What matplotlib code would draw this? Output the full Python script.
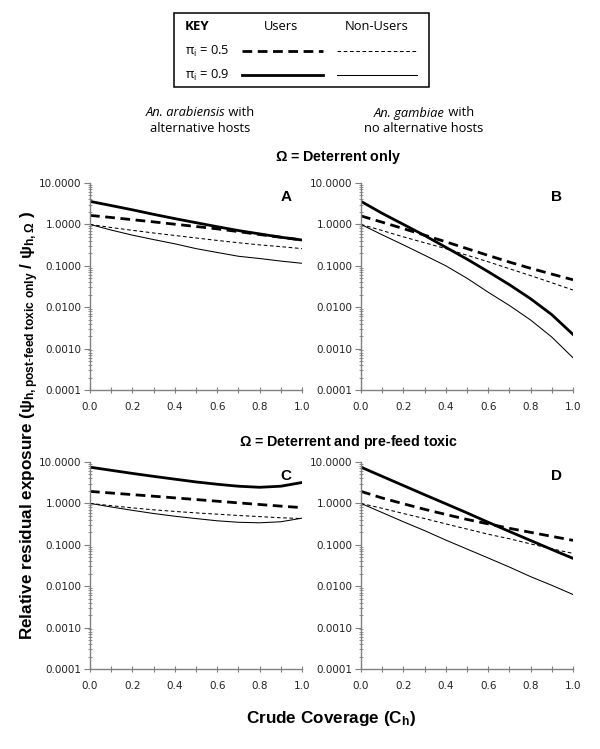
import numpy as np
import matplotlib
matplotlib.use('Agg')
import matplotlib.pyplot as plt
from matplotlib.lines import Line2D
from matplotlib.patches import Rectangle
from matplotlib.ticker import LogLocator, MultipleLocator, FormatStrFormatter, NullFormatter

plt.rcParams['mathtext.fontset'] = 'custom'
plt.rcParams['mathtext.rm'] = 'Open Sans'
plt.rcParams['mathtext.it'] = 'Open Sans:italic'
plt.rcParams['mathtext.bf'] = 'Liberation Sans:bold'

# crude coverage C_h
coverage = [0.0, 0.1, 0.2, 0.3, 0.4, 0.5, 0.6, 0.7, 0.8, 0.9, 1.0]

# panel A: An. arabiensis, deterrent only
a_users_05 = [1.65, 1.47, 1.30, 1.15, 1.01, 0.89, 0.78, 0.67, 0.57, 0.49, 0.42]
a_users_09 = [3.6, 2.85, 2.25, 1.75, 1.38, 1.10, 0.88, 0.71, 0.59, 0.49, 0.42]
a_non_05 = [1.0, 0.84, 0.72, 0.62, 0.54, 0.47, 0.41, 0.36, 0.32, 0.29, 0.26]
a_non_09 = [1.0, 0.73, 0.55, 0.43, 0.34, 0.26, 0.21, 0.17, 0.15, 0.13, 0.115]

# panel B: An. gambiae, deterrent only
b_users_05 = [1.6, 1.13, 0.79, 0.55, 0.38, 0.26, 0.178, 0.123, 0.087, 0.063, 0.046]
b_users_09 = [3.6, 1.85, 1.0, 0.54, 0.28, 0.145, 0.072, 0.035, 0.016, 0.0066, 0.0022]
b_non_05 = [1.0, 0.71, 0.50, 0.36, 0.26, 0.18, 0.125, 0.085, 0.058, 0.039, 0.026]
b_non_09 = [1.0, 0.56, 0.32, 0.18, 0.10, 0.05, 0.023, 0.011, 0.0049, 0.0019, 0.0006]

# panel C: An. arabiensis, deterrent and pre-feed toxic
c_users_05 = [1.95, 1.78, 1.63, 1.49, 1.36, 1.24, 1.13, 1.03, 0.94, 0.86, 0.79]
c_users_09 = [7.5, 6.3, 5.3, 4.5, 3.85, 3.3, 2.9, 2.6, 2.45, 2.6, 3.2]
c_non_05 = [1.0, 0.88, 0.78, 0.70, 0.64, 0.59, 0.55, 0.51, 0.48, 0.45, 0.43]
c_non_09 = [1.0, 0.82, 0.68, 0.57, 0.49, 0.43, 0.38, 0.35, 0.34, 0.36, 0.44]

# panel D: An. gambiae, deterrent and pre-feed toxic
d_users_05 = [1.95, 1.35, 0.98, 0.72, 0.54, 0.41, 0.32, 0.25, 0.20, 0.16, 0.128]
d_users_09 = [7.5, 4.5, 2.7, 1.62, 0.98, 0.59, 0.35, 0.21, 0.127, 0.077, 0.047]
d_non_05 = [1.0, 0.76, 0.57, 0.43, 0.32, 0.24, 0.18, 0.14, 0.105, 0.08, 0.062]
d_non_09 = [1.0, 0.60, 0.36, 0.22, 0.13, 0.079, 0.048, 0.029, 0.017, 0.0105, 0.0063]

panels = {
    'A': (a_users_05, a_users_09, a_non_05, a_non_09),
    'B': (b_users_05, b_users_09, b_non_05, b_non_09),
    'C': (c_users_05, c_users_09, c_non_05, c_non_09),
    'D': (d_users_05, d_users_09, d_non_05, d_non_09),
}

W, H = 600, 749
fig = plt.figure(figsize=(6, 7.49), dpi=100)


def fx(x):
    return x / W


def fy(y):
    return 1 - y / H


boxes = {'A': (90, 183), 'B': (361, 183), 'C': (90, 462), 'D': (361, 462)}
axw, axh = 212, 207
grey = '#808080'

thick_dash = dict(color='black', lw=2.0, ls=(0, (3.5, 2.0)))
thick_solid = dict(color='black', lw=2.0, ls='-')
thin_dash = dict(color='black', lw=0.75, ls=(0, (3.5, 2.5)))
thin_solid = dict(color='black', lw=0.75, ls='-')

for name, (u05, u09, n05, n09) in panels.items():
    x0, y0 = boxes[name]
    ax = fig.add_axes([fx(x0), fy(y0 + axh), axw / W, axh / H])
    ax.plot(coverage, n09, **thin_solid)
    ax.plot(coverage, n05, **thin_dash)
    ax.plot(coverage, u05, **thick_dash)
    ax.plot(coverage, u09, **thick_solid)
    ax.set_yscale('log')
    ax.set_ylim(0.0001, 10)
    ax.set_xlim(0, 1.0)
    ax.yaxis.set_major_locator(LogLocator(base=10, numticks=10))
    ax.yaxis.set_minor_locator(LogLocator(base=10, subs=np.arange(2, 10), numticks=10))
    ax.yaxis.set_major_formatter(FormatStrFormatter('%.4f'))
    ax.yaxis.set_minor_formatter(NullFormatter())
    ax.xaxis.set_major_locator(MultipleLocator(0.2))
    ax.xaxis.set_minor_locator(MultipleLocator(0.1))
    ax.xaxis.set_major_formatter(FormatStrFormatter('%.1f'))
    for s in ['top', 'right']:
        ax.spines[s].set_visible(False)
    for s in ['left', 'bottom']:
        ax.spines[s].set_color(grey)
        ax.spines[s].set_linewidth(1.0)
    ax.tick_params(axis='y', which='major', direction='out', length=4, width=0.8,
                   color=grey, labelsize=7.5, labelcolor='#222222', pad=2)
    ax.tick_params(axis='y', which='minor', direction='inout', length=3, width=0.6, color=grey)
    ax.tick_params(axis='x', which='both', direction='inout', length=5, width=0.8,
                   color=grey, labelsize=7.5, labelcolor='#222222', pad=6)
    ax.patch.set_visible(False)
    ax.text(0.95, 0.93, name, transform=ax.transAxes, ha='right', va='center',
            fontsize=11, fontweight='bold', family='Liberation Sans')

# titles
fig.text(fx(338), fy(157), r'$\mathbf{\Omega}$ = Deterrent only', ha='center', va='center',
         fontsize=10.3, fontweight='bold', family='Liberation Sans')
fig.text(fx(349), fy(442), r'$\mathbf{\Omega}$ = Deterrent and pre-feed toxic', ha='center', va='center',
         fontsize=10.3, fontweight='bold', family='Liberation Sans')

# column headers: italic species name followed by plain text, centred together
renderer = fig.canvas.get_renderer()
for cx, species, rest, line2 in [(200, 'An. arabiensis', ' with', 'alternative hosts'),
                                 (424, 'An. gambiae', ' with', 'no alternative hosts')]:
    t1 = fig.text(0, fy(113), species, ha='left', va='center', fontsize=9.3,
                  family='Open Sans', style='italic')
    t2 = fig.text(0, fy(113), rest, ha='left', va='center', fontsize=9.3, family='Open Sans')
    w1 = t1.get_window_extent(renderer).width
    w2 = t2.get_window_extent(renderer).width
    left = cx - (w1 + w2) / 2
    t1.set_x(fx(left))
    t2.set_x(fx(left + w1))
    fig.text(fx(cx), fy(129), line2, ha='center', va='center', fontsize=9.3, family='Open Sans')

# axis labels
fig.text(fx(30), fy(426),
         r'Relative residual exposure ($\mathbf{\psi}_{\mathbf{h,post\text{-}feed\ toxic\ only}}$ / $\mathbf{\psi}_{\mathbf{h,\Omega}}$ )',
         rotation=90, ha='center', va='center', fontsize=12.3, fontweight='bold', family='Liberation Sans')
fig.text(fx(331), fy(718), r'Crude Coverage (C$_{\mathbf{h}}$)', ha='center', va='center',
         fontsize=12.3, fontweight='bold', family='Liberation Sans')

# key box
fig.patches.append(Rectangle((fx(174), fy(87)), (429 - 174) / W, (87 - 13) / H,
                             transform=fig.transFigure, fill=False, ec='black', lw=1.1))
fig.text(fx(185), fy(27), 'KEY', ha='left', va='center', fontsize=9.5, fontweight='bold', family='Open Sans')
fig.text(fx(281), fy(27), 'Users', ha='center', va='center', fontsize=9.3, family='Open Sans')
fig.text(fx(377), fy(27), 'Non-Users', ha='center', va='center', fontsize=9.3, family='Open Sans')
fig.text(fx(185), fy(51), r'$\mathrm{\pi}_{\mathrm{i}}$ = 0.5', ha='left', va='center', fontsize=9.3, family='Open Sans')
fig.text(fx(185), fy(75), r'$\mathrm{\pi}_{\mathrm{i}}$ = 0.9', ha='left', va='center', fontsize=9.3, family='Open Sans')
fig.lines.append(Line2D([fx(242), fx(323)], [fy(51), fy(51)], transform=fig.transFigure, **thick_dash))
fig.lines.append(Line2D([fx(337), fx(417)], [fy(51), fy(51)], transform=fig.transFigure, **thin_dash))
fig.lines.append(Line2D([fx(242), fx(323)], [fy(75), fy(75)], transform=fig.transFigure, **thick_solid))
fig.lines.append(Line2D([fx(337), fx(417)], [fy(75), fy(75)], transform=fig.transFigure, **thin_solid))

fig.savefig('out.png', dpi=100)
